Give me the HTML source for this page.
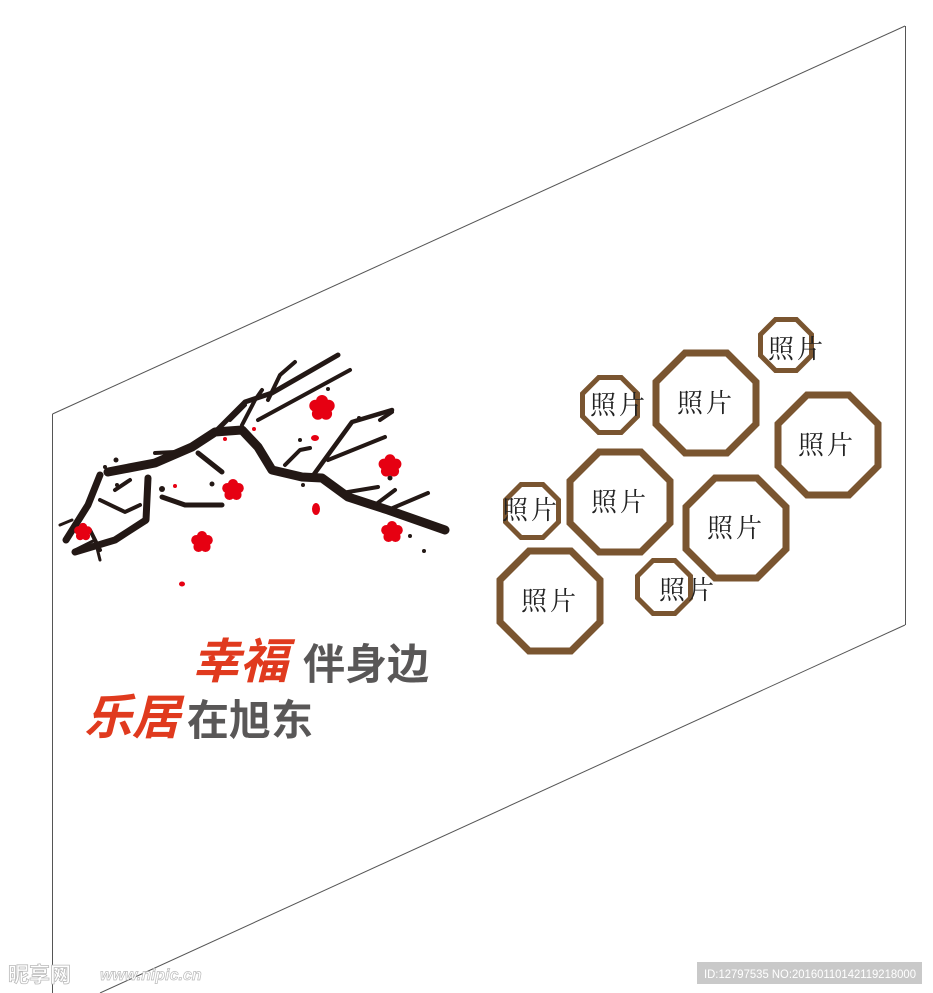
<!DOCTYPE html>
<html><head><meta charset="utf-8"><style>
html,body{margin:0;padding:0;background:#fff;}
svg{display:block;}
.p{font-family:"Liberation Serif","Noto Serif CJK SC",serif;font-size:26px;fill:#222;letter-spacing:3px;}
</style></head><body>
<svg width="933" height="993" viewBox="0 0 933 993" xmlns="http://www.w3.org/2000/svg">
<g stroke="#555" stroke-width="1" fill="none">
<line x1="52.5" y1="414" x2="52.5" y2="993"/>
<line x1="52.5" y1="414" x2="905" y2="26"/>
<line x1="905.5" y1="26" x2="905.5" y2="625"/>
<line x1="905" y1="625" x2="100" y2="993"/>
</g>
<!-- branch -->
<g stroke="#231815" fill="none" stroke-linecap="round" stroke-linejoin="round">
<path d="M108 472 L155 463 L192 447 L215 432 L242 430 L258 447 L272 470 L302 477 L322 478 L348 497 L388 510 L445 530" stroke-width="9"/>
<path d="M100 475 L88 505 L66 540" stroke-width="7"/>
<path d="M148 478 L146 520 L115 540 L75 552" stroke-width="7"/>
<path d="M100 500 L125 512 L140 505" stroke-width="4"/>
<path d="M115 490 L130 480" stroke-width="4"/>
<path d="M215 432 L245 402 L272 393 L338 355" stroke-width="5"/>
<path d="M258 420 L350 370" stroke-width="4"/>
<path d="M242 425 L255 400 L262 390" stroke-width="4"/>
<path d="M230 420 L245 405" stroke-width="4"/>
<path d="M268 400 L280 375 L295 362" stroke-width="4"/>
<path d="M312 477 L352 422 L392 410" stroke-width="4.5"/>
<path d="M328 460 L385 437" stroke-width="4"/>
<path d="M342 493 L378 487" stroke-width="4"/>
<path d="M388 510 L428 493" stroke-width="4"/>
<path d="M375 505 L395 490" stroke-width="4"/>
<path d="M162 497 L185 505 L222 505" stroke-width="5"/>
<path d="M198 453 L222 472" stroke-width="5"/>
<path d="M155 453 L175 452" stroke-width="4"/>
<path d="M285 465 L300 450 L310 448" stroke-width="4"/>
<path d="M90 530 L100 550" stroke-width="4"/>
<path d="M380 420 L392 412" stroke-width="4"/>
<path d="M75 550 L95 540 L100 560" stroke-width="3"/>
<path d="M60 525 L72 520" stroke-width="3"/>
</g>
<g fill="#231815">
<circle cx="116" cy="460" r="2.5"/><circle cx="105" cy="467" r="2"/><circle cx="117" cy="485" r="2"/>
<circle cx="162" cy="489" r="3"/><circle cx="212" cy="484" r="2.5"/><circle cx="303" cy="485" r="2"/>
<circle cx="390" cy="478" r="2.5"/><circle cx="410" cy="536" r="2"/><circle cx="424" cy="551" r="2"/>
<circle cx="359" cy="418" r="2"/><circle cx="328" cy="389" r="2"/><circle cx="300" cy="440" r="2"/>
</g>
<g fill="#e60012">
<g transform="translate(322,408)"><circle r="6"/><circle cx="0" cy="-7" r="6"/><circle cx="6.7" cy="-2.2" r="6"/><circle cx="4.1" cy="5.7" r="6"/><circle cx="-4.1" cy="5.7" r="6"/><circle cx="-6.7" cy="-2.2" r="6"/></g>
<g transform="translate(390,466) scale(0.9)"><circle r="6"/><circle cx="0" cy="-7" r="6"/><circle cx="6.7" cy="-2.2" r="6"/><circle cx="4.1" cy="5.7" r="6"/><circle cx="-4.1" cy="5.7" r="6"/><circle cx="-6.7" cy="-2.2" r="6"/></g>
<g transform="translate(233,490) scale(0.85)"><circle r="6"/><circle cx="0" cy="-7" r="6"/><circle cx="6.7" cy="-2.2" r="6"/><circle cx="4.1" cy="5.7" r="6"/><circle cx="-4.1" cy="5.7" r="6"/><circle cx="-6.7" cy="-2.2" r="6"/></g>
<g transform="translate(392,532) scale(0.85)"><circle r="6"/><circle cx="0" cy="-7" r="6"/><circle cx="6.7" cy="-2.2" r="6"/><circle cx="4.1" cy="5.7" r="6"/><circle cx="-4.1" cy="5.7" r="6"/><circle cx="-6.7" cy="-2.2" r="6"/></g>
<g transform="translate(83,532) scale(0.7)"><circle r="6"/><circle cx="0" cy="-7" r="6"/><circle cx="6.7" cy="-2.2" r="6"/><circle cx="4.1" cy="5.7" r="6"/><circle cx="-4.1" cy="5.7" r="6"/><circle cx="-6.7" cy="-2.2" r="6"/></g>
<g transform="translate(202,542) scale(0.85)"><circle r="6"/><circle cx="0" cy="-7" r="6"/><circle cx="6.7" cy="-2.2" r="6"/><circle cx="4.1" cy="5.7" r="6"/><circle cx="-4.1" cy="5.7" r="6"/><circle cx="-6.7" cy="-2.2" r="6"/></g>
<ellipse cx="182" cy="584" rx="3" ry="2.5"/><ellipse cx="316" cy="509" rx="4" ry="6"/><ellipse cx="315" cy="438" rx="4" ry="3"/>
<circle cx="225" cy="439" r="2"/><circle cx="254" cy="429" r="2"/><circle cx="175" cy="486" r="2"/>
</g>
<!-- octagons -->
<g fill="none" stroke="#7a5530" stroke-linejoin="miter">
<polygon stroke-width="7" points="-21,-50 21,-50 50,-21 50,21 21,50 -21,50 -50,21 -50,-21" transform="translate(706,403)"/>
<polygon stroke-width="7" points="-21,-50 21,-50 50,-21 50,21 21,50 -21,50 -50,21 -50,-21" transform="translate(828,445)"/>
<polygon stroke-width="7" points="-21,-50 21,-50 50,-21 50,21 21,50 -21,50 -50,21 -50,-21" transform="translate(620,502)"/>
<polygon stroke-width="7" points="-21,-50 21,-50 50,-21 50,21 21,50 -21,50 -50,21 -50,-21" transform="translate(736,528)"/>
<polygon stroke-width="7" points="-21,-50 21,-50 50,-21 50,21 21,50 -21,50 -50,21 -50,-21" transform="translate(550,601)"/>
<polygon stroke-width="5" points="-10.5,-25.5 10.5,-25.5 25.5,-10.5 25.5,10.5 10.5,25.5 -10.5,25.5 -25.5,10.5 -25.5,-10.5" transform="translate(786,345)"/>
<polygon stroke-width="5" points="-11.3,-27.5 11.3,-27.5 27.5,-11.3 27.5,11.3 11.3,27.5 -11.3,27.5 -27.5,11.3 -27.5,-11.3" transform="translate(610,405)"/>
<polygon stroke-width="5" points="-11,-26.5 11,-26.5 26.5,-11 26.5,11 11,26.5 -11,26.5 -26.5,11 -26.5,-11" transform="translate(532,511)"/>
<polygon stroke-width="5" points="-11,-26.5 11,-26.5 26.5,-11 26.5,11 11,26.5 -11,26.5 -26.5,11 -26.5,-11" transform="translate(664,587)"/>
</g>
<g class="p">
<text x="677" y="412">照片</text>
<text x="798" y="454">照片</text>
<text x="591" y="511">照片</text>
<text x="707" y="537">照片</text>
<text x="521" y="610">照片</text>
<text x="768" y="358">照片</text>
<text x="590" y="414">照片</text>
<text x="502" y="519">照片</text>
<text x="659" y="599">照片</text>
</g>
<g font-family="'Liberation Sans','Noto Sans CJK SC',sans-serif" font-weight="bold">
<text x="192" y="678" font-size="48" fill="#e03a1e" font-style="italic">幸福</text>
<text x="303" y="679" font-size="42" fill="#595757">伴身边</text>
<text x="84" y="734" font-size="48" fill="#e03a1e" font-style="italic">乐居</text>
<text x="187" y="735" font-size="42" fill="#595757">在旭东</text>
</g>
<g font-family="'Liberation Sans','Noto Sans CJK SC',sans-serif">
<text x="8" y="982" font-size="21" fill="#fff" stroke="#bbb" stroke-width="0.8" font-weight="bold">昵享网</text>
<text x="100" y="980" font-size="16" fill="#fff" stroke="#bbb" stroke-width="0.7" font-style="italic" font-weight="bold">www.nipic.cn</text>
<rect x="697" y="962" width="225" height="22" fill="#c9c9c9"/>
<text x="704" y="978" font-size="11.5" fill="#fff" textLength="212" lengthAdjust="spacingAndGlyphs">ID:12797535 NO:20160110142119218000</text>
</g>
</svg>
</body></html>
